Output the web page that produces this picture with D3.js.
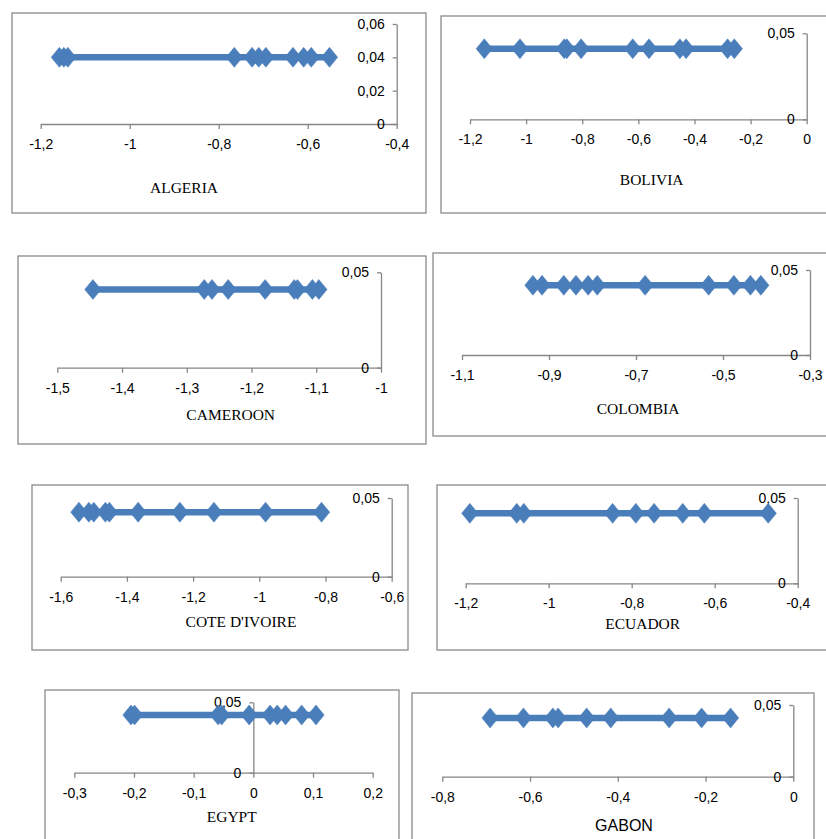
<!DOCTYPE html>
<html>
<head>
<meta charset="utf-8">
<script src="https://cdn.jsdelivr.net/npm/d3@7"></script>
<style>
  html, body { margin: 0; padding: 0; background: #fff; }
  svg { display: block; }
</style>
</head>
<body>
<svg id="chart" width="826" height="839"></svg>
<script>
// ---------- DATA ----------
const categories = ["ALGERIA", "BOLIVIA", "CAMEROON", "COLOMBIA", "COTE D'IVOIRE", "ECUADOR", "EGYPT", "GABON"];

const algeria  = [-1.158, -1.148, -1.139, -0.765, -0.725, -0.710, -0.694, -0.633, -0.609, -0.592, -0.551];
const bolivia  = [-1.149, -1.022, -0.864, -0.855, -0.804, -0.620, -0.562, -0.452, -0.430, -0.282, -0.258];
const cameroon = [-1.445, -1.273, -1.261, -1.236, -1.179, -1.134, -1.129, -1.106, -1.096];
const colombia = [-0.937, -0.916, -0.866, -0.838, -0.810, -0.789, -0.679, -0.533, -0.475, -0.437, -0.413];
const coteDivoire = [-1.545, -1.515, -1.500, -1.465, -1.453, -1.366, -1.240, -1.137, -0.981, -0.812];
const ecuador  = [-1.190, -1.077, -1.060, -0.846, -0.790, -0.746, -0.677, -0.625, -0.471];
const egypt    = [-0.205, -0.199, -0.059, -0.053, -0.007, 0.028, 0.040, 0.054, 0.081, 0.105];
const gabon    = [-0.691, -0.615, -0.548, -0.536, -0.471, -0.416, -0.283, -0.209, -0.143];

const seriesValues = [algeria, bolivia, cameroon, colombia, coteDivoire, ecuador, egypt, gabon];
// constant level (y) of each country's series
const yLevels = [0.040, 0.041, 0.041, 0.041, 0.041, 0.041, 0.041, 0.041];

// tick labels
const xTicks = [
  [-1.2, -1, -0.8, -0.6, -0.4],
  [-1.2, -1, -0.8, -0.6, -0.4, -0.2, 0],
  [-1.5, -1.4, -1.3, -1.2, -1.1, -1],
  [-1.1, -0.9, -0.7, -0.5, -0.3],
  [-1.6, -1.4, -1.2, -1, -0.8, -0.6],
  [-1.2, -1, -0.8, -0.6, -0.4],
  [-0.3, -0.2, -0.1, 0, 0.1, 0.2],
  [-0.8, -0.6, -0.4, -0.2, 0]
];
const yTicks = [
  [0, 0.02, 0.04, 0.06],
  [0, 0.05], [0, 0.05], [0, 0.05], [0, 0.05], [0, 0.05], [0, 0.05], [0, 0.05]
];

// ---------- LAYOUT (positions only) ----------
const layout = [
  { box: [12, 13, 414, 200],  xr: [40.7, 396.7], yr: [124, 24],    title: [184, 193],   serif: true },
  { box: [441, 16, 400, 197], xr: [470, 806.7],  yr: [119.3, 33.3], title: [651.7, 185], serif: true },
  { box: [18, 256, 408, 188], xr: [57.3, 381],   yr: [367.7, 272.3], title: [230.7, 420], serif: true },
  { box: [433, 253, 400, 183], xr: [462, 810],   yr: [355, 270],   title: [638, 414],   serif: true },
  { box: [32, 485, 376, 165], xr: [60.7, 391.7], yr: [576.7, 498], title: [241, 627],   serif: true },
  { box: [437, 485, 400, 165], xr: [465.7, 797.7], yr: [583.3, 498], title: [642.7, 629], serif: true },
  { box: [45, 690, 354, 170], xr: [74.3, 372.7], yr: [772.7, 702.3], title: [231.7, 822], serif: true },
  { box: [412, 693, 402, 170], xr: [442.3, 793.3], yr: [776.7, 705], title: [624, 831], serif: false }
];

const BLUE = "#4A7EBB";
const AXIS = "#868686";
const fmt = v => {
  const r = +(+v).toFixed(3);
  return String(r).replace(".", ",");
};

const svg = d3.select("#chart");

categories.forEach((name, i) => {
  const L = layout[i];
  const vals = seriesValues[i];
  const g = svg.append("g");

  // frame
  g.append("rect")
    .attr("x", L.box[0]).attr("y", L.box[1])
    .attr("width", L.box[2]).attr("height", L.box[3])
    .attr("fill", "#fff").attr("stroke", "#8a8a8a").attr("stroke-width", 1.3);

  const xt = xTicks[i], yt = yTicks[i];
  const x = d3.scaleLinear().domain([xt[0], xt[xt.length - 1]]).range(L.xr);
  const y = d3.scaleLinear().domain([0, yt[yt.length - 1]]).range(L.yr);

  // x axis at y=0
  const xAxis = g.append("g")
    .attr("transform", `translate(0,${y(0)})`)
    .call(d3.axisBottom(x).tickValues(xt).tickSize(5).tickSizeOuter(0).tickPadding(10).tickFormat(fmt));

  // y axis crosses at x = 0 (clamped to the domain)
  const xd = x.domain();
  const cross = Math.max(xd[0], Math.min(xd[1], 0));
  const yAxis = g.append("g")
    .attr("transform", `translate(${x(cross)},0)`)
    .call(d3.axisLeft(y).tickValues(yt).tickSize(4).tickSizeOuter(0).tickPadding(8).tickFormat(fmt));

  [xAxis, yAxis].forEach(a => {
    a.select(".domain").attr("stroke", AXIS).attr("stroke-width", 1.3);
    a.selectAll(".tick line").attr("stroke", AXIS).attr("stroke-width", 1.3);
    a.selectAll(".tick text")
      .attr("fill", "#000")
      .style("font-family", "'Liberation Sans', Arial, sans-serif")
      .style("font-size", "14px");
  });

  // series line
  const yl = yLevels[i];
  const sorted = vals.slice().sort((a, b) => a - b);
  g.append("path")
    .datum(sorted)
    .attr("fill", "none")
    .attr("stroke", BLUE)
    .attr("stroke-width", 6.5)
    .attr("d", d3.line().x(d => x(d)).y(() => y(yl)));

  // diamond markers
  g.selectAll("path.marker")
    .data(vals)
    .join("path")
    .attr("class", "marker")
    .attr("transform", d => `translate(${x(d)},${y(yl)})`)
    .attr("d", "M0,-10L8.2,0L0,10L-8.2,0Z")
    .attr("fill", BLUE)
    .attr("stroke", BLUE)
    .attr("stroke-width", 0.5);

  // title
  g.append("text")
    .attr("x", L.title[0]).attr("y", L.title[1])
    .attr("text-anchor", "middle")
    .style("font-family", L.serif ? "'Liberation Serif', 'Times New Roman', serif" : "'Liberation Sans', Arial, sans-serif")
    .style("font-size", L.serif ? "15.5px" : "16px")
    .attr("fill", "#000")
    .text(name);
});
</script>
</body>
</html>
